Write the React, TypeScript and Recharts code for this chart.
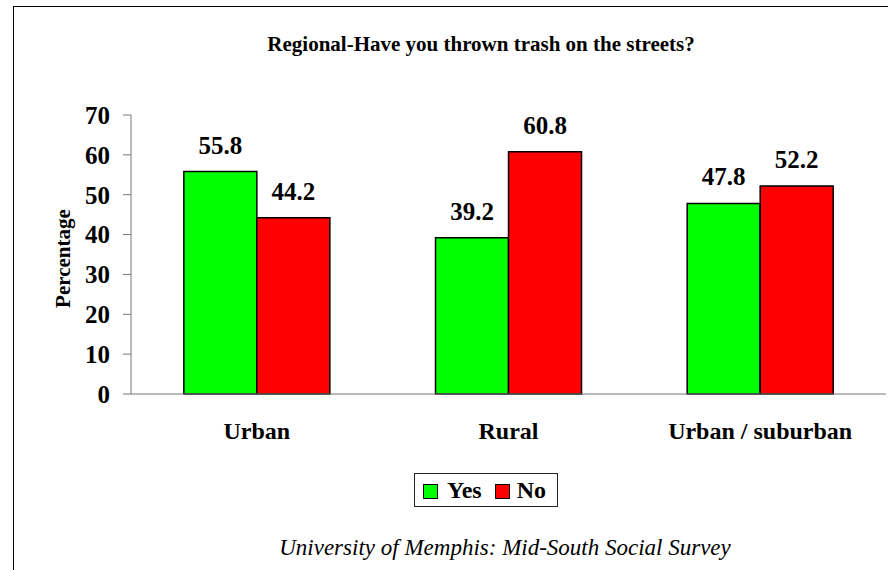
import React from 'react';
import { BarChart, Bar, XAxis, YAxis, LabelList, Legend } from 'recharts';

const categories = ['Urban', 'Rural', 'Urban / suburban'];
const yesValues = [55.8, 39.2, 47.8];
const noValues = [44.2, 60.8, 52.2];
const seriesNames = ['Yes', 'No'];
const yTicks = [0, 10, 20, 30, 40, 50, 60, 70];
const edgeTicks = [0, 1, 2, 3];

const data = categories.map((c, i) => ({ name: c, yes: yesValues[i], no: noValues[i] }));

const FONT = '"Liberation Serif", "Times New Roman", serif';
const AXIS = '#777777';

const LegendBox = (props: any) => {
  const payload = [...(props.payload || [])].sort(
    (a: any, b: any) => seriesNames.indexOf(a.value) - seriesNames.indexOf(b.value)
  );
  return (
    <div
      style={{
        border: '1px solid #222',
        height: 34,
        boxSizing: 'border-box',
        display: 'flex',
        alignItems: 'center',
        paddingLeft: 8,
        fontFamily: FONT,
        fontWeight: 'bold',
        fontSize: 24,
        background: '#fff',
      }}
    >
      {payload.map((p: any, i: number) => (
        <div key={i} style={{ display: 'flex', alignItems: 'center', marginRight: i === 0 ? 13 : 0 }}>
          <span
            style={{
              display: 'inline-block',
              width: 13,
              height: 13,
              background: p.color,
              border: '1px solid #000',
              marginRight: i === 0 ? 9 : 7,
              marginTop: 2,
            }}
          />
          <span style={{ lineHeight: '26px' }}>{p.value}</span>
        </div>
      ))}
    </div>
  );
};

export default function App() {
  return (
    <div style={{ position: 'absolute', left: 0, top: 0, width: 888, height: 570, background: '#fff', overflow: 'hidden' }}>
      <div
        style={{
          position: 'absolute',
          left: 13,
          top: 6,
          width: 900,
          height: 600,
          borderTop: '1px solid #000',
          borderLeft: '1px solid #000',
        }}
      />
      <div
        style={{
          position: 'absolute',
          left: 181,
          top: 31,
          width: 600,
          textAlign: 'center',
          fontFamily: FONT,
          fontWeight: 'bold',
          fontSize: 21,
          lineHeight: '26px',
          color: '#000',
        }}
      >
        Regional-Have you thrown trash on the streets?
      </div>
      <div style={{ position: 'absolute', left: 0, top: 0 }}>
        <BarChart
          width={888}
          height={570}
          data={data}
          margin={{ top: 115, right: 2, left: 0, bottom: 108 }}
          barCategoryGap="21%"
          barGap={0}
        >
          <XAxis
            xAxisId="b_cat"
            dataKey="name"
            type="category"
            axisLine={false}
            tickLine={false}
            tickSize={0}
            tickMargin={20}
            height={60}
            tick={{ fontFamily: FONT, fontWeight: 'bold', fontSize: 24, fill: '#000' }}
            interval={0}
          />
          <XAxis
            xAxisId="a_edge"
            type="number"
            domain={[0, 3]}
            ticks={edgeTicks}
            tick={false}
            tickSize={8}
            tickLine={{ stroke: AXIS }}
            axisLine={{ stroke: AXIS }}
            height={8}
          />
          <YAxis
            type="number"
            domain={[0, 70]}
            ticks={yTicks}
            width={131}
            tickSize={8}
            tickMargin={13}
            axisLine={{ stroke: AXIS }}
            tickLine={{ stroke: AXIS }}
            tick={{ fontFamily: FONT, fontWeight: 'bold', fontSize: 25, fill: '#000' }}
            label={{
              value: 'Percentage',
              angle: -90,
              position: 'center',
              dx: -3,
              dy: 4,
              style: { fontFamily: FONT, fontWeight: 'bold', fontSize: 21, fill: '#000', textAnchor: 'middle' },
            }}
          />
          <Legend
            layout="horizontal"
            verticalAlign="middle"
            align="center"
            content={<LegendBox />}
            wrapperStyle={{ left: 414, top: 473, width: 144, height: 34 }}
          />
          <Bar dataKey="yes" name="Yes" xAxisId="b_cat" fill="#00FF00" stroke="#000" strokeWidth={1.5} isAnimationActive={false}>
            <LabelList
              dataKey="yes"
              position="top"
              offset={18}
              style={{ fontFamily: FONT, fontWeight: 'bold', fontSize: 25, fill: '#000' }}
            />
          </Bar>
          <Bar dataKey="no" name="No" xAxisId="b_cat" fill="#FF0000" stroke="#000" strokeWidth={1.5} isAnimationActive={false}>
            <LabelList
              dataKey="no"
              position="top"
              offset={18}
              style={{ fontFamily: FONT, fontWeight: 'bold', fontSize: 25, fill: '#000' }}
            />
          </Bar>
        </BarChart>
      </div>
      <div
        style={{
          position: 'absolute',
          left: 205,
          top: 535,
          width: 600,
          textAlign: 'center',
          fontFamily: FONT,
          fontStyle: 'italic',
          fontSize: 23,
          lineHeight: '26px',
          color: '#000',
        }}
      >
        University of Memphis: Mid-South Social Survey
      </div>
    </div>
  );
}
